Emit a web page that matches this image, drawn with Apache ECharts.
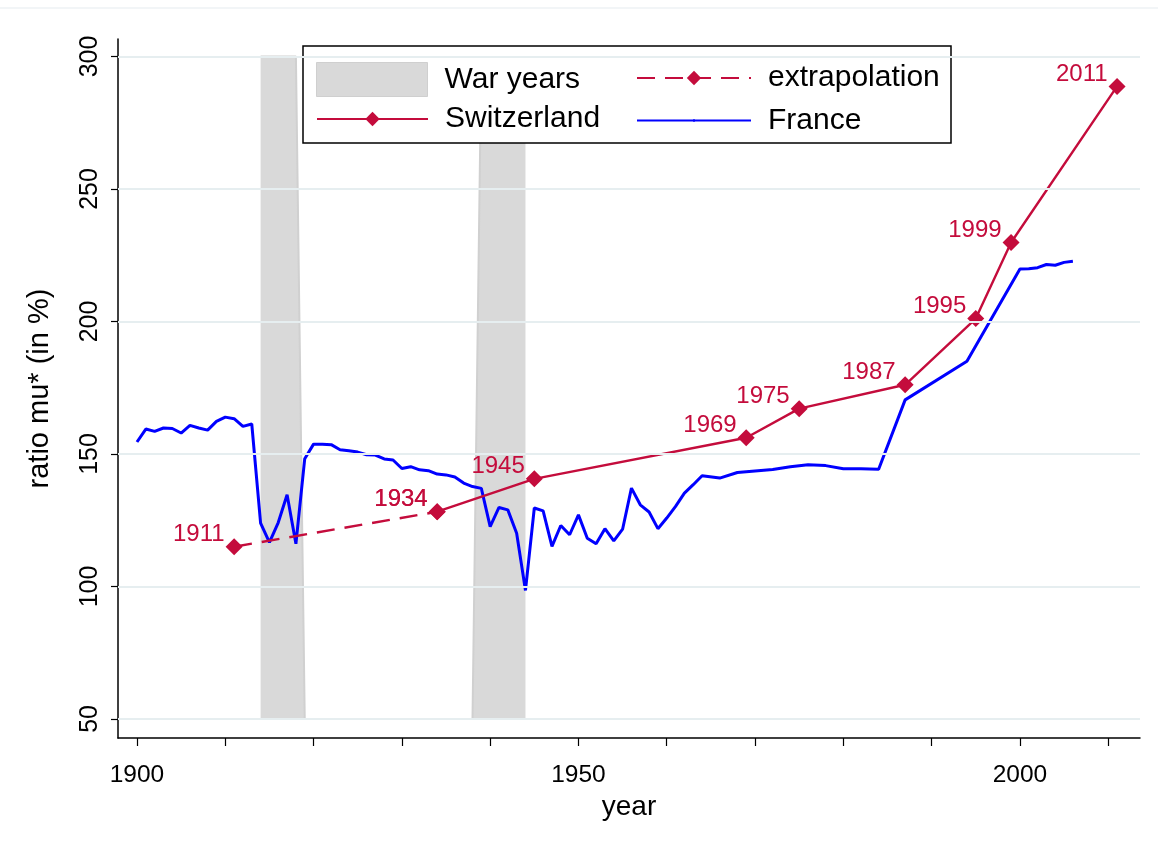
<!DOCTYPE html>
<html>
<head>
<meta charset="utf-8">
<script src="https://cdn.jsdelivr.net/npm/echarts@6/dist/echarts.min.js"></script>
<style>html,body{margin:0;padding:0;background:#fff;}#c{width:1158px;height:846px;}</style>
</head>
<body>
<div id="c"></div>
<script>
// ---- data ----
const franceYears = [1900,1901,1902,1903,1904,1905,1906,1907,1908,1909,1910,1911,1912,1913,1914,1915,1916,1917,1918,1919,
  1920,1921,1922,1923,1924,1925,1926,1927,1928,1929,1930,1931,1932,1933,1934,1935,1936,1937,1938,1939,
  1940,1941,1942,1943,1944,1945,1946,1947,1948,1949,1950,1951,1952,1953,1954,1955,1956,1957,1958,1959,
  1960,1961,1962,1963,1964,1966,1968,1970,1972,1974,1976,1978,1980,1982,1984,1987,1994,2000,2001,2002,2003,2004,2005,2006];
const franceValues = [154.5,159.4,158.5,159.8,159.6,157.9,160.8,159.8,159.0,162.3,163.9,163.3,160.4,161.3,123.9,116.6,124.1,134.6,116.1,148.2,
  153.7,153.7,153.5,151.6,151.2,150.7,149.7,149.6,148.1,147.7,144.5,145.2,144.0,143.7,142.4,142.1,141.3,139.0,137.7,137.0,
  122.6,129.8,128.9,120.1,98.5,129.6,128.5,115.1,123.0,119.5,127.0,118.2,116.1,121.8,117.2,121.6,137.1,130.8,128.1,121.8,
  125.8,130.2,135.2,138.4,141.8,140.9,143.0,143.6,144.1,145.2,145.9,145.6,144.4,144.4,144.2,170.4,185.0,219.8,219.9,220.3,221.5,221.2,222.3,222.7];
const swissYears = [1934,1945,1969,1975,1987,1995,1999,2011];
const swissValues = [128.2,140.6,156.1,167.1,176.1,201.1,229.8,288.7];
const extrapYears = [1911,1934];
const extrapValues = [115.0,128.2];
const warYears = [1914,1915,1916,1917,1918,1919,1920,1921,1922,1923,1924,1925,1926,1927,1928,1929,1930,1931,1932,1933,1934,1935,1936,1937,1938,1939,1940,1941,1942,1943,1944];
const warValues = [300,300,300,300,300,50,50,50,50,50,50,50,50,50,50,50,50,50,50,50,50,50,50,50,50,300,300,300,300,300,300];
const yTicks = [50,100,150,200,250,300];
const xTicks = [1900,1910,1920,1930,1940,1950,1960,1970,1980,1990,2000,2010];
const xLabels = [1900,1950,2000];
const seriesNames = ['War years','Switzerland','extrapolation','France'];

const zip = (a,b) => a.map((v,i)=>[v,b[i]]);
const RED = '#c40c3c', BLUE = '#0000ff', GREY = '#d9d9d9';
const FONT = '"Liberation Sans", Arial, Helvetica, sans-serif';

const chart = echarts.init(document.getElementById('c'), null, {renderer:'canvas'});
const ptLabel = {show:true, position:'left', distance:1, offset:[0,-12], color:RED, fontSize:24, fontFamily:FONT,
  formatter: p => String(p.value[0])};
const legText = {fontSize:30, color:'#000', fontFamily:FONT, padding:[0,0,0,12]};

chart.setOption({
  animation:false,
  backgroundColor:'#fff',
  textStyle:{fontFamily:FONT},
  grid:{left:118, right:18, top:39, bottom:108, containLabel:false},
  xAxis:{type:'value', min:1897.85, max:2013.6,
    name:'year', nameLocation:'middle', nameGap:50, nameTextStyle:{fontSize:28, color:'#000', fontFamily:FONT},
    axisLine:{show:true, onZero:false, lineStyle:{color:'#000', width:1.5}},
    axisTick:{show:true, customValues:xTicks, length:8, lineStyle:{color:'#000', width:1.2}},
    axisLabel:{customValues:xLabels, fontSize:24.5, color:'#000', margin:25, fontFamily:FONT, formatter: v => String(v)},
    splitLine:{show:false}},
  yAxis:{type:'value', min:42.8, max:306.6,
    name:'ratio mu* (in %)', nameLocation:'middle', nameRotate:90, nameGap:64,
    nameTextStyle:{fontSize:29, color:'#000', fontFamily:FONT},
    axisLine:{show:true, onZero:false, lineStyle:{color:'#000', width:1.5}},
    axisTick:{show:true, customValues:yTicks, length:7, lineStyle:{color:'#000', width:1.2}},
    axisLabel:{customValues:yTicks, rotate:90, fontSize:25, color:'#000', margin:15, fontFamily:FONT, formatter: v => String(v)},
    splitLine:{show:false}},
  legend:[
    {data:[{name:seriesNames[0], icon:'rect', itemStyle:{color:GREY, borderColor:'#cfcfcf', borderWidth:1}}], left:316, top:62, padding:0, itemWidth:111, itemHeight:34,
      textStyle:legText, selectedMode:false, z:10},
    {data:[seriesNames[1]], left:316, top:104, padding:0, itemWidth:111, itemHeight:18,
      textStyle:legText, selectedMode:false, z:10},
    {data:[seriesNames[2]], left:636, top:63, padding:0, itemWidth:114, itemHeight:18,
      textStyle:legText, selectedMode:false, z:10},
    {data:[seriesNames[3]], left:636, top:105.5, padding:0, itemWidth:114, itemHeight:3,
      textStyle:legText, selectedMode:false, z:10}
  ],
  graphic:[
    {type:'rect', shape:{x:303, y:46, width:648, height:97}, style:{fill:'#fff', stroke:'#000', lineWidth:1.5}, z:5},
    {type:'line', shape:{x1:0, y1:8, x2:1158, y2:8}, style:{stroke:'#eef2f4', lineWidth:1.5}, z:0}
  ],
  series:[
    {type:'line', name:'grid', data:[], z:0, silent:true,
      markLine:{silent:true, symbol:'none', label:{show:false}, animation:false,
        lineStyle:{color:'#e6eef0', width:2, type:'solid'},
        data: yTicks.map(v=>({yAxis:v}))}},
    {type:'line', name:seriesNames[0], data:zip(warYears,warValues), z:1, symbol:'none',
      lineStyle:{color:'#d0d0d0', width:2}, itemStyle:{color:GREY},
      areaStyle:{color:GREY, opacity:1, origin:50}},
    {type:'line', name:seriesNames[3], data:zip(franceYears,franceValues), z:3, symbol:'none',
      lineStyle:{color:BLUE, width:3}, itemStyle:{color:BLUE}},
    {type:'line', name:seriesNames[2], data:zip(extrapYears,extrapValues), z:4, symbol:'diamond', symbolSize:17,
      lineStyle:{color:RED, width:2.5, type:[18,10]}, itemStyle:{color:RED}, label:ptLabel},
    {type:'line', name:seriesNames[1], data:zip(swissYears,swissValues), z:4, symbol:'diamond', symbolSize:17,
      lineStyle:{color:RED, width:2.4}, itemStyle:{color:RED}, label:ptLabel}
  ]
});
</script>
</body>
</html>
